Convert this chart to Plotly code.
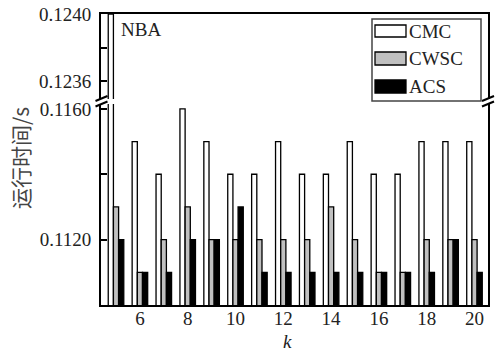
import plotly.graph_objects as go

k_values = list(range(5, 21))
cmc = [0.1240, 0.1150, 0.1140, 0.1160, 0.1150, 0.1140, 0.1140, 0.1150,
       0.1140, 0.1140, 0.1150, 0.1140, 0.1140, 0.1150, 0.1150, 0.1150]
cwsc = [0.1130, 0.1110, 0.1120, 0.1130, 0.1120, 0.1120, 0.1120, 0.1120,
        0.1120, 0.1130, 0.1120, 0.1110, 0.1110, 0.1120, 0.1120, 0.1120]
acs = [0.1120, 0.1110, 0.1110, 0.1120, 0.1120, 0.1130, 0.1110, 0.1110,
       0.1110, 0.1110, 0.1110, 0.1110, 0.1110, 0.1110, 0.1120, 0.1110]
series_names = ["CMC", "CWSC", "ACS"]
series_colors = ["#ffffff", "#c0c0c0", "#000000"]

x_tick_vals = [6, 8, 10, 12, 14, 16, 18, 20]
y_low_ticks = [0.1100, 0.1120, 0.1140, 0.1160]
y_low_text = ["", "0.1120", "", "0.1160"]
y_high_ticks = [0.1236, 0.1238, 0.1240]
y_high_text = ["0.1236", "", "0.1240"]

SERIF = "Times New Roman, Liberation Serif, serif"
W, H = 499, 352
ml, mr, mt, mb = 101, 11, 14, 47
pw, ph = W - ml - mr, H - mt - mb

fig = go.Figure()
for name, vals, col in zip(series_names, [cmc, cwsc, acs], series_colors):
    for yax, xax in (("y", "x"), ("y2", "x2")):
        fig.add_trace(go.Bar(
            x=k_values, y=vals, name=name, marker_color=col,
            marker_line=dict(color="black", width=1.3),
            xaxis=xax, yaxis=yax, showlegend=False
        ))

low_dom = [0, 201 / ph]
high_dom = [206 / ph, 1]
xr = [4.372, 20.565]
tfont = dict(family=SERIF, size=19, color="#222")

fig.update_layout(
    width=W, height=H,
    margin=dict(l=ml, r=mr, t=mt, b=mb, autoexpand=False),
    paper_bgcolor="white", plot_bgcolor="white",
    barmode="group", bargap=0.35, bargroupgap=0,
    font=dict(family=SERIF, size=18, color="#222"),
    xaxis=dict(range=xr, tickvals=x_tick_vals, ticks="", showgrid=False,
               showline=True, linecolor="black", linewidth=2, anchor="y",
               zeroline=False, tickfont=tfont, automargin=False,
               ticklabelstandoff=-5),
    xaxis2=dict(range=xr, matches="x", showticklabels=False, ticks="",
                showgrid=False, showline=True, linecolor="black", linewidth=2,
                side="top", anchor="y2", zeroline=False, automargin=False),
    yaxis=dict(domain=low_dom, range=[0.1100, 0.11615], tickvals=y_low_ticks,
               ticktext=y_low_text, ticks="inside", ticklen=6, tickwidth=1.5,
               tickcolor="black", showgrid=False, showline=True, mirror=True,
               linecolor="black", linewidth=2, zeroline=False,
               ticklabelstandoff=4, tickfont=tfont, automargin=False),
    yaxis2=dict(domain=high_dom, range=[0.123493, 0.1240], tickvals=y_high_ticks,
                ticktext=y_high_text, ticks="inside", ticklen=6, tickwidth=1.5,
                tickcolor="black", showgrid=False, showline=True, mirror=True,
                linecolor="black", linewidth=2, zeroline=False,
                ticklabelstandoff=4, tickfont=tfont, automargin=False),
)

def px_x(px):
    return (px - ml) / pw

def px_y(py):
    return (H - mb - py) / ph

shapes = []
# break marks
for xc in (101.5, 488):
    for yc in (98.5, 104):
        shapes.append(dict(type="line", xref="paper", yref="paper",
                           x0=px_x(xc - 6), y0=px_y(yc + 2.5),
                           x1=px_x(xc + 6), y1=px_y(yc - 2.5),
                           line=dict(color="black", width=2)))
# legend box
shapes.append(dict(type="rect", xref="paper", yref="paper",
                   x0=px_x(372), x1=px_x(481), y0=px_y(101), y1=px_y(19),
                   line=dict(color="#444", width=1.5), fillcolor="white"))
leg_rows = [(25, 37), (52, 65), (80, 93)]
annotations = []
for (y0, y1), name, col in zip(leg_rows, series_names, series_colors):
    shapes.append(dict(type="rect", xref="paper", yref="paper",
                       x0=px_x(375), x1=px_x(406), y0=px_y(y1), y1=px_y(y0),
                       line=dict(color="black", width=1.3), fillcolor=col))
    annotations.append(dict(text=name, xref="paper", yref="paper",
                            x=px_x(407), y=px_y((y0 + y1) / 2),
                            xanchor="left", yanchor="middle", showarrow=False,
                            font=dict(family=SERIF, size=19, color="#222")))

annotations.append(dict(text="NBA", xref="paper", yref="paper",
                        x=px_x(119), y=px_y(29), xanchor="left", yanchor="middle",
                        showarrow=False, font=dict(family=SERIF, size=19, color="#222")))
annotations.append(dict(text="<i>k</i>", xref="paper", yref="paper",
                        x=px_x(287), y=px_y(341), xanchor="center", yanchor="middle",
                        showarrow=False, font=dict(family=SERIF, size=19, color="#222")))
annotations.append(dict(text="运行时间/s", xref="paper", yref="paper",
                        x=px_x(20), y=px_y(158), xanchor="center", yanchor="middle",
                        textangle=-90, showarrow=False,
                        font=dict(family="Noto Sans CJK SC", size=21, color="#444")))

fig.update_layout(shapes=shapes, annotations=annotations)
fig.write_html("out.html", post_script="document.body.style.margin='0';",
               config={"displayModeBar": False})
